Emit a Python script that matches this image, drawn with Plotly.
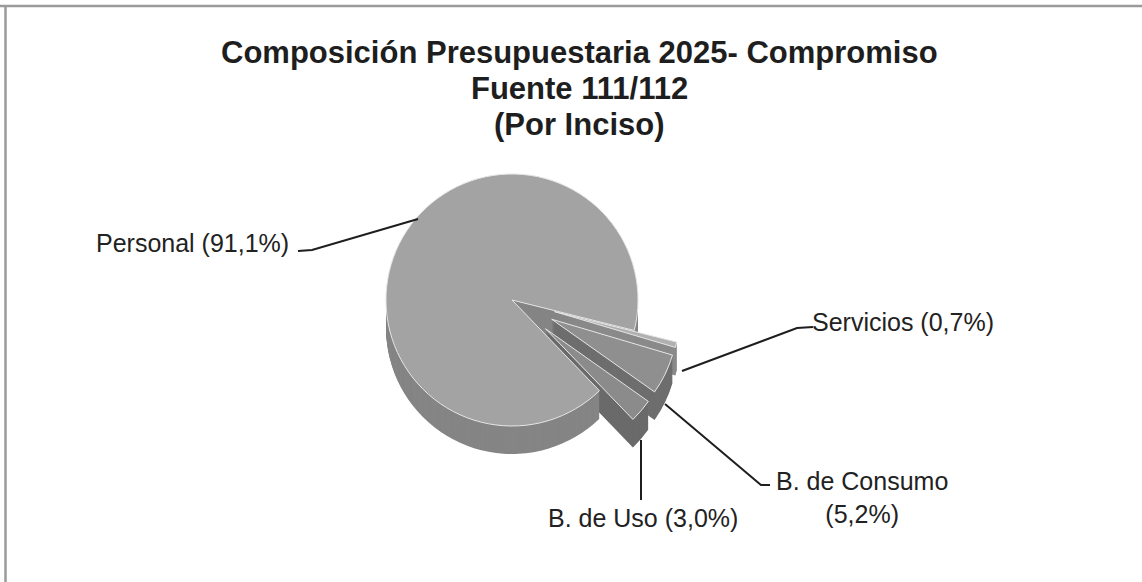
import plotly.graph_objects as go

# ---- data ----
categories = ["Servicios", "B. de Consumo", "B. de Uso", "Personal"]
values = [0.7, 5.2, 3.0, 91.1]
pulls = [0.35, 0.35, 0.35, 0.0]
title_lines = ["Composición Presupuestaria 2025- Compromiso", "Fuente 111/112", "(Por Inciso)"]

W, H = 1142, 582
cx, cy = 512, 300      # pie centre (px)
R = 126                # pie radius (px)
half = R * (1 + max(pulls))
depth = 28             # pseudo-3D thickness (px)

top_colors = ["#b0b0b0", "#8f8f8f", "#8b8b8b", "#a3a3a3"]
side_colors = ["#8a8a8a", "#6e6e6e", "#6a6a6a", "#858585"]


def dom(dy):
    return dict(x=[(cx - half) / W, (cx + half) / W],
                y=[1 - (cy + dy + half) / H, 1 - (cy + dy - half) / H])


fig = go.Figure()
# side layers (bottom first)
for d in range(depth, 0, -1):
    fig.add_trace(go.Pie(
        labels=categories, values=values, pull=pulls, sort=False,
        direction="clockwise", rotation=104, domain=dom(d),
        marker=dict(colors=side_colors, line=dict(width=0)),
        textinfo="none", hoverinfo="skip", showlegend=False))
# top face
fig.add_trace(go.Pie(
    labels=categories, values=values, pull=pulls, sort=False,
    direction="clockwise", rotation=104, domain=dom(0),
    marker=dict(colors=top_colors, line=dict(color="#e6e6e6", width=1)),
    textinfo="none", hovertemplate="%{label}: %{value:.1f}%<extra></extra>",
    showlegend=False))


def fmt(v):
    return f"{v:.1f}".replace(".", ",") + "%"


def px(x, y):
    return x / W, 1 - y / H


annots = []
for i, line in enumerate(title_lines):
    x, y = px(579, 52 + 36 * i)
    annots.append(dict(x=x, y=y, xref="paper", yref="paper", text=f"<b>{line}</b>",
                       showarrow=False, xanchor="center", yanchor="middle",
                       font=dict(family="Liberation Sans, Arial", size=31, color="#1e1e1e")))

lab = dict(zip(categories, values))
label_specs = [
    (f"Personal ({fmt(lab['Personal'])})", 192, 243),
    (f"Servicios ({fmt(lab['Servicios'])})", 903, 322),
    (f"B. de Consumo<br>({fmt(lab['B. de Consumo'])})", 862, 497),
    (f"B. de Uso ({fmt(lab['B. de Uso'])})", 643, 518),
]
for text, x0, y0 in label_specs:
    x, y = px(x0, y0)
    annots.append(dict(x=x, y=y, xref="paper", yref="paper", text=text, showarrow=False,
                       xanchor="center", yanchor="middle", align="center",
                       font=dict(family="Liberation Sans, Arial", size=25, color="#222222")))


def path(pts):
    s = ""
    for k, (x0, y0) in enumerate(pts):
        xx, yy = px(x0, y0)
        s += ("M" if k == 0 else "L") + f" {xx:.5f},{yy:.5f} "
    return s


leaders = [
    [(298, 251), (312, 250), (418, 219)],
    [(813, 327), (797, 328), (682, 371)],
    [(770, 485), (761, 485), (665, 404)],
    [(641, 440), (641, 500)],
]
shapes = [dict(type="path", xref="paper", yref="paper", path=path(p),
               line=dict(color="#1e1e1e", width=2)) for p in leaders]
# frame (top and left edges)
shapes.append(dict(type="line", xref="paper", yref="paper", x0=0, x1=1,
                   y0=1 - 6 / H, y1=1 - 6 / H, line=dict(color="#9a9a9a", width=2.5)))
shapes.append(dict(type="line", xref="paper", yref="paper", x0=5.5 / W, x1=5.5 / W,
                   y0=0, y1=1 - 5 / H, line=dict(color="#9a9a9a", width=2.5)))

fig.update_layout(width=W, height=H, margin=dict(l=0, r=0, t=0, b=0),
                  paper_bgcolor="white", plot_bgcolor="white",
                  annotations=annots, shapes=shapes)
fig.write_html("out.html", config={"displayModeBar": False},
               post_script="document.body.style.margin='0';")
